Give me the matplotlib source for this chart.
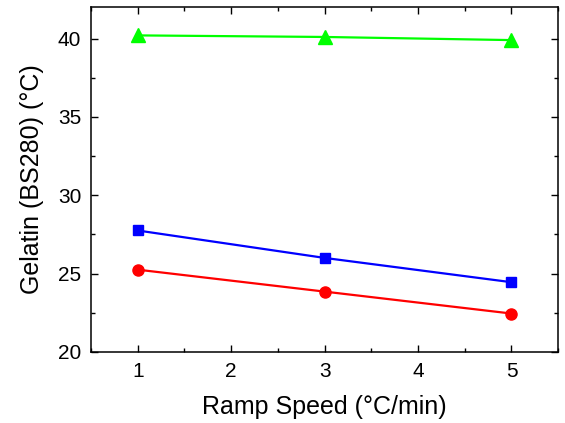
import matplotlib
matplotlib.use("Agg")
import matplotlib.pyplot as plt
from matplotlib.ticker import MultipleLocator

plt.rcParams['font.family'] = ['Liberation Sans', 'DejaVu Sans']

# gel temperatures vs. ramp speed
ramp_speed = [1, 3, 5]
gel_high = [40.2, 40.1, 39.9]
gel_mid = [27.75, 26.0, 24.45]
gel_low = [25.25, 23.85, 22.45]

fig = plt.figure(figsize=(5.65, 4.23), dpi=100)
ax = fig.add_axes([0.161, 0.168, 0.827, 0.815])

ax.plot(ramp_speed, gel_high, color='#00FF00', marker='^', markersize=9.5, linewidth=1.6)
ax.plot(ramp_speed, gel_mid, color='#0000FF', marker='s', markersize=7, linewidth=1.6)
ax.plot(ramp_speed, gel_low, color='#FF0000', marker='o', markersize=8, linewidth=1.6)

ax.set_xlim(0.5, 5.5)
ax.set_ylim(20, 42)
ax.xaxis.set_major_locator(MultipleLocator(1))
ax.xaxis.set_minor_locator(MultipleLocator(0.5))
ax.yaxis.set_major_locator(MultipleLocator(5))
ax.yaxis.set_minor_locator(MultipleLocator(2.5))
ax.tick_params(which='both', direction='in', top=True, right=True, labelsize=15, width=1)
ax.tick_params(which='major', length=5, pad=7)
ax.tick_params(which='minor', length=3)
for s in ax.spines.values():
    s.set_linewidth(1.1)

ax.set_xlabel('Ramp Speed (°C/min)', fontsize=18, labelpad=10)
ax.set_ylabel('Gelatin (BS280) (°C)', fontsize=18, labelpad=10)

fig.savefig('out.png', dpi=100)
